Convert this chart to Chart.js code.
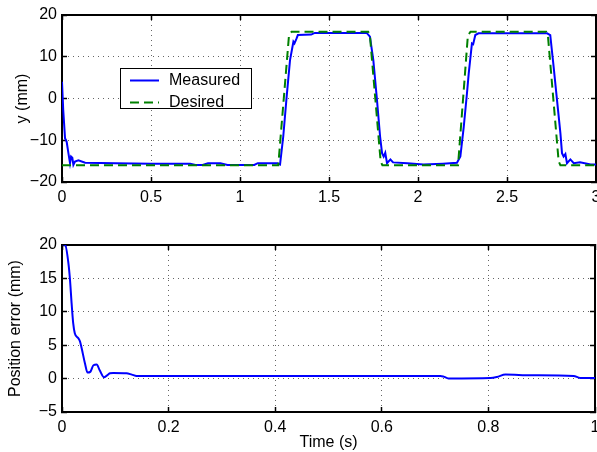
<!DOCTYPE html>
<html>
<head>
<meta charset="utf-8">
<script src="https://cdn.jsdelivr.net/npm/chart.js@4"></script>
<style>
body { margin: 0; background: #fff; }
canvas { display: block; }
</style>
</head>
<body>
<canvas id="topcanvas" width="597" height="226"></canvas>
<canvas id="errcanvas" width="597" height="226"></canvas>
<script>
'use strict';
// top plot: measured and desired y (mm) against time (s)
const measTime = [0, 0.007, 0.017, 0.026, 0.036, 0.045, 0.051, 0.058, 0.064, 0.073, 0.092, 0.13, 0.3, 0.5, 0.72, 0.75, 0.79, 0.82, 0.89, 0.93, 1.08, 1.1, 1.21,
    1.225, 1.243, 1.262, 1.281, 1.30, 1.306, 1.318, 1.325, 1.40, 1.42, 1.712, 1.73, 1.749, 1.768, 1.787, 1.798, 1.807, 1.816, 1.826, 1.845, 1.86, 1.94, 2.03, 2.14, 2.219,
    2.238, 2.257, 2.275, 2.285, 2.303, 2.31, 2.322, 2.34, 2.725, 2.743, 2.762, 2.781, 2.80, 2.809, 2.818, 2.828, 2.837, 2.856, 2.875, 2.91, 2.97, 3.0];
const measY = [4.0, -2.8, -9.5, -10.3, -13.1, -15.5, -13.9, -14.2, -15.9, -15.1, -14.8, -15.4, -15.5, -15.6, -15.6, -15.9, -15.9, -15.5, -15.5, -15.9, -15.9, -15.5, -15.5,
    -15.8, -9.1, 0.4, 9.2, 13.6, 13.2, 14.4, 15.2, 15.3, 15.7, 15.7, 14.8, 9.2, 0.4, -9.1, -13.1, -13.9, -13.0, -15.5, -14.6, -15.3, -15.5, -15.8, -15.6, -15.4,
    -13.9, -6.8, 1.2, 6.0, 13.2, 13.0, 15.2, 15.6, 15.6, 15.2, 7.6, -0.4, -8.3, -13.1, -13.9, -13.3, -15.5, -14.6, -15.5, -15.3, -15.8, -15.8];
const desTime = [0, 1.215, 1.275, 1.29, 1.72, 1.73, 1.79, 1.80, 2.225, 2.28, 2.295, 2.72, 2.73, 2.79, 2.80, 3.0];
const desY = [-16, -16, 15, 16, 16, 15, -15, -16, -16, 15, 16, 16, 15, -15, -16, -16];

// bottom plot: position error (mm) against time (s)
const errTime = [0, 0.006, 0.012, 0.015, 0.018, 0.021, 0.024, 0.031, 0.034, 0.037, 0.043, 0.048, 0.053, 0.059, 0.065, 0.071, 0.079, 0.084, 0.09, 0.096,
    0.121, 0.131, 0.14, 0.45, 0.71, 0.716, 0.725, 0.804, 0.816, 0.832, 0.88, 0.96, 0.972, 1.0];
const errMm = [20.1, 20.0, 17.3, 14.8, 11.3, 8.3, 6.8, 6.0, 5.5, 4.5, 2.3, 0.9, 1.0, 2.0, 2.1, 1.2, 0.2, 0.45, 0.8, 0.85,
    0.8, 0.6, 0.4, 0.4, 0.4, 0.3, 0.03, 0.1, 0.25, 0.6, 0.5, 0.4, 0.1, 0.1];

const xTicksTop = [0, 0.5, 1, 1.5, 2, 2.5, 3];
const yTicksTop = [-20, -10, 0, 10, 20];
const xTicksErr = [0, 0.2, 0.4, 0.6, 0.8, 1];
const yTicksErr = [-5, 0, 5, 10, 15, 20];

const FONT = {family: '"Liberation Sans", Arial, Helvetica, sans-serif', size: 16};
const pts = (xs, ys) => xs.map((x, i) => ({x: x, y: ys[i]}));
const minus = v => String(v).replace('-', '\u2212');

function axes(xr, xt, yr, yt, xh, xTitle, yTitle, yTitlePad) {
    const tickSet = list => s => { s.ticks = list.map(v => ({value: v})); };
    const gridMain = {color: 'rgba(0,0,0,0.6)', lineWidth: 1, tickLength: -5, tickColor: '#000', tickWidth: 1.5};
    const gridSide = {drawOnChartArea: false, tickLength: -5, tickColor: '#000', tickWidth: 1.5};
    return {
        x: {
            type: 'linear', position: 'bottom', min: xr[0], max: xr[1],
            afterBuildTicks: tickSet(xt),
            afterFit: s => { s.height = xh; s.paddingLeft = 0; s.paddingRight = 0; },
            grid: gridMain,
            border: {color: '#000', width: 2, dash: [1, 4]},
            ticks: {font: FONT, color: '#000', padding: 11, maxRotation: 0, autoSkip: false, callback: minus},
            title: {display: !!xTitle, text: xTitle, font: FONT, color: '#000', padding: {top: 0, bottom: 0}},
        },
        x2: {
            type: 'linear', position: 'top', min: xr[0], max: xr[1],
            afterBuildTicks: tickSet(xt),
            afterFit: s => { s.height = 0; s.paddingLeft = 0; s.paddingRight = 0; },
            grid: gridSide,
            border: {color: '#000', width: 2},
            ticks: {display: false},
        },
        y: {
            type: 'linear', position: 'left', min: yr[0], max: yr[1],
            afterBuildTicks: tickSet(yt),
            afterFit: s => { s.width = 62; s.paddingTop = 0; s.paddingBottom = 0; },
            grid: gridMain,
            border: {color: '#000', width: 2, dash: [1, 4]},
            ticks: {font: FONT, color: '#000', padding: 10, autoSkip: false, callback: minus},
            title: {display: true, text: yTitle, font: FONT, color: '#000', padding: {top: yTitlePad, bottom: 0}},
        },
        y2: {
            type: 'linear', position: 'right', min: yr[0], max: yr[1],
            afterBuildTicks: tickSet(yt),
            afterFit: s => { s.width = 0; s.paddingTop = 0; s.paddingBottom = 0; },
            grid: gridSide,
            border: {color: '#000', width: 2},
            ticks: {display: false},
        },
    };
}

// boxed legend inside the top axes, drawn from the dataset styles
const legendBox = {
    id: 'legendBox',
    afterDatasetsDraw(chart) {
        const {ctx, chartArea} = chart;
        const bx = chartArea.left + 58, by = chartArea.top + 53;
        ctx.save();
        ctx.fillStyle = '#fff';
        ctx.fillRect(bx, by, 132, 41);
        ctx.strokeStyle = '#000';
        ctx.lineWidth = 1;
        ctx.strokeRect(bx + 0.5, by + 0.5, 131, 40);
        chart.data.datasets.forEach((ds, i) => {
            const ly = by + 12.5 + i * 22;
            ctx.strokeStyle = ds.borderColor;
            ctx.lineWidth = ds.borderWidth;
            ctx.setLineDash(ds.borderDash || []);
            ctx.beginPath();
            ctx.moveTo(bx + 10, ly);
            ctx.lineTo(bx + 39, ly);
            ctx.stroke();
            ctx.setLineDash([]);
            ctx.fillStyle = '#000';
            ctx.font = FONT.size + 'px ' + FONT.family;
            ctx.textBaseline = 'middle';
            ctx.fillText(ds.label, bx + 49, ly);
        });
        ctx.restore();
    },
};

Chart.defaults.animation = false;

new Chart(document.getElementById('topcanvas').getContext('2d'), {
    type: 'line',
    data: {
        datasets: [
            {
                label: 'Measured',
                data: pts(measTime, measY),
                borderColor: '#0000ff',
                borderWidth: 2,
                pointRadius: 0,
                tension: 0,
                order: 1,
            },
            {
                label: 'Desired',
                data: pts(desTime, desY),
                borderColor: '#008000',
                borderWidth: 2,
                borderDash: [9, 5],
                pointRadius: 0,
                tension: 0,
                order: 0,
            },
        ],
    },
    options: {
        responsive: false,
        devicePixelRatio: 1,
        layout: {padding: {top: 15, right: 1, left: 0, bottom: 0}},
        scales: axes([0, 3], xTicksTop, [-20, 20], yTicksTop, 44, '', 'y (mm)', 13),
        plugins: {legend: {display: false}, tooltip: {enabled: false}},
    },
    plugins: [legendBox],
});

new Chart(document.getElementById('errcanvas').getContext('2d'), {
    type: 'line',
    data: {
        datasets: [
            {
                label: 'Position error',
                data: pts(errTime, errMm),
                borderColor: '#0000ff',
                borderWidth: 2,
                pointRadius: 0,
                cubicInterpolationMode: 'monotone',
            },
        ],
    },
    options: {
        responsive: false,
        devicePixelRatio: 1,
        layout: {padding: {top: 19, right: 2, left: 0, bottom: 0}},
        scales: axes([0, 1], xTicksErr, [-5, 20], yTicksErr, 40, 'Time (s)', 'Position error (mm)', 6),
        plugins: {legend: {display: false}, tooltip: {enabled: false}},
    },
});
</script>
</body>
</html>
